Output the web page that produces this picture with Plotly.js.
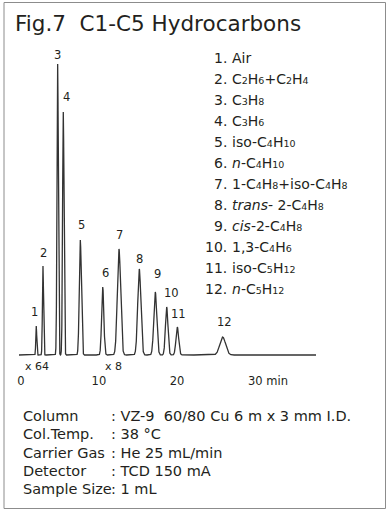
<!DOCTYPE html>
<html><head><meta charset="utf-8">
<script src="https://cdn.plot.ly/plotly-3.0.1.min.js"></script>
<style>html,body{margin:0;padding:0;background:#fff}#chart{width:391px;height:514px}</style>
</head><body><div id="chart"></div>
<script>
// ---- data ----
const peakLabels = ["1","2","3","4","5","6","7","8","9","10","11","12"];
const retentionTimes = [1.98, 2.84, 4.72, 5.44, 7.62, 10.49, 12.57, 15.17, 17.22, 18.68, 20.04, 25.85]; // min
const peakHeights = [29, 89, 291, 243, 115, 68, 106, 86, 63, 48, 28, 18]; // relative response
const peakSigmas = [0.06, 0.07, 0.085, 0.09, 0.13, 0.14, 0.21, 0.20, 0.19, 0.16, 0.17, 0.37]; // min
const S = n => '<span style="font-size:9.5px">' + n + '</span>';
const compounds = [
  "Air",
  "C" + S(2) + "H" + S(6) + "+C" + S(2) + "H" + S(4),
  "C" + S(3) + "H" + S(8),
  "C" + S(3) + "H" + S(6),
  "iso-C" + S(4) + "H" + S(10),
  "<i>n</i>-C" + S(4) + "H" + S(10),
  "1-C" + S(4) + "H" + S(8) + "+iso-C" + S(4) + "H" + S(8),
  "<i>trans</i>- 2-C" + S(4) + "H" + S(8),
  "<i>cis</i>-2-C" + S(4) + "H" + S(8),
  "1,3-C" + S(4) + "H" + S(6),
  "iso-C" + S(5) + "H" + S(12),
  "<i>n</i>-C" + S(5) + "H" + S(12)
];
const runStart = -0.23, runEnd = 37.8; // min
const attenuationLabels = ["x 64", "x 8"];
const attenuationTimes = [2.07, 11.9];
const tickValues = [0, 10, 20];
const tickLabels = ["0", "10", "20"];
const unitLabel = "30 min";
const conditionNames = ["Column", "Col.Temp.", "Carrier Gas", "Detector", "Sample Size"];
const conditionValues = [": VZ-9\u00a0\u00a060/80 Cu 6 m x 3 mm I.D.", ": 38 \u00b0C", ": He 25 mL/min", ": TCD 150 mA", ": 1 mL"];
const titleText = "Fig.7\u00a0\u00a0C1-C5 Hydrocarbons";

// ---- styling / layout helpers ----
const W = 391, H = 514;
const FONT = "DejaVu Sans, Liberation Sans, Arial, sans-serif";
const INK = "#231f20";
const labelDx = [-1.6, 0.7, 0, 3, 0.7, 2.3, 0.7, 0.7, 2.7, 5.3, 1.4, 1.6];
const labelGap = [14, 13, 9, 15, 15, 14, 14, 10, 18, 14, 13, 15];
const px = v => v / W, py = v => 1 - v / H;

// chromatogram trace built from peak table (Gaussian peak shape)
const tx = [], ty = [];
for (let t = runStart; t <= runEnd + 1e-9; t += 0.005) {
  let s = 0;
  for (let i = 0; i < retentionTimes.length; i++) {
    const z = (t - retentionTimes[i]) / peakSigmas[i];
    if (Math.abs(z) < 8) s += peakHeights[i] * Math.exp(-0.5 * z * z);
  }
  tx.push(t); ty.push(s);
}

const annotations = [];
peakLabels.forEach((lab, i) => annotations.push({
  x: retentionTimes[i], y: peakHeights[i], xref: 'x', yref: 'y', text: lab, showarrow: false,
  xanchor: 'center', yanchor: 'middle', xshift: labelDx[i], yshift: labelGap[i],
  font: {family: FONT, size: 11.5, color: INK}, borderpad: 0
}));
attenuationLabels.forEach((lab, i) => annotations.push({
  x: attenuationTimes[i], y: py(366), xref: 'x', yref: 'paper', text: lab, showarrow: false,
  xanchor: 'center', yanchor: 'middle', font: {family: FONT, size: 11, color: INK}, borderpad: 0
}));
annotations.push({
  x: 28.92, y: py(381), xref: 'x', yref: 'paper', text: unitLabel, showarrow: false,
  xanchor: 'left', yanchor: 'middle', font: {family: FONT, size: 11.5, color: INK}, borderpad: 0
});
compounds.forEach((c, i) => {
  const yc = py(58.3 + 21 * i);
  annotations.push({x: px(227.5), y: yc, xref: 'paper', yref: 'paper', text: (i + 1) + ".",
    showarrow: false, xanchor: 'right', yanchor: 'middle', borderpad: 0,
    font: {family: FONT, size: 14, color: INK}});
  annotations.push({x: px(231), y: yc, xref: 'paper', yref: 'paper', text: c,
    showarrow: false, xanchor: 'left', yanchor: 'middle', borderpad: 0,
    font: {family: FONT, size: 14, color: INK}});
});
conditionNames.forEach((n, i) => {
  const yc = py(416 + 18.25 * i);
  annotations.push({x: px(21.5), y: yc, xref: 'paper', yref: 'paper', text: n, showarrow: false,
    xanchor: 'left', yanchor: 'middle', borderpad: 0, font: {family: FONT, size: 14.5, color: INK}});
  annotations.push({x: px(109.5), y: yc, xref: 'paper', yref: 'paper', text: conditionValues[i], showarrow: false,
    xanchor: 'left', yanchor: 'middle', borderpad: 0, font: {family: FONT, size: 14.5, color: INK}});
});

const t0 = -20.8 / 7.81, t1 = t0 + W / 7.81;
const layout = {
  width: W, height: H, margin: {l: 0, r: 0, t: 0, b: 0},
  paper_bgcolor: '#fff', plot_bgcolor: '#fff', showlegend: false,
  title: {text: titleText, x: px(15), xanchor: 'left', xref: 'paper', y: py(23.5), yanchor: 'middle', yref: 'paper',
    font: {family: FONT, size: 21.5, color: INK}},
  xaxis: {range: [t0, t1], showgrid: false, zeroline: false, showline: false, ticks: '',
    tickmode: 'array', tickvals: tickValues, ticktext: tickLabels,
    tickfont: {family: FONT, size: 11.5, color: INK}, anchor: 'free', position: py(372), fixedrange: true},
  yaxis: {range: [-(H - 355), 355], visible: false, fixedrange: true},
  shapes: [{type: 'rect', xref: 'paper', yref: 'paper', x0: px(4), x1: px(385.5), y0: py(508.5), y1: py(2.5),
    line: {color: '#8c8c8c', width: 1}, fillcolor: 'rgba(0,0,0,0)'}],
  annotations: annotations
};
Plotly.newPlot('chart', [{x: tx, y: ty, type: 'scatter', mode: 'lines', hoverinfo: 'skip',
  line: {color: '#333333', width: 1.3}}], layout, {displayModeBar: false, staticPlot: true});
</script>
</body></html>
